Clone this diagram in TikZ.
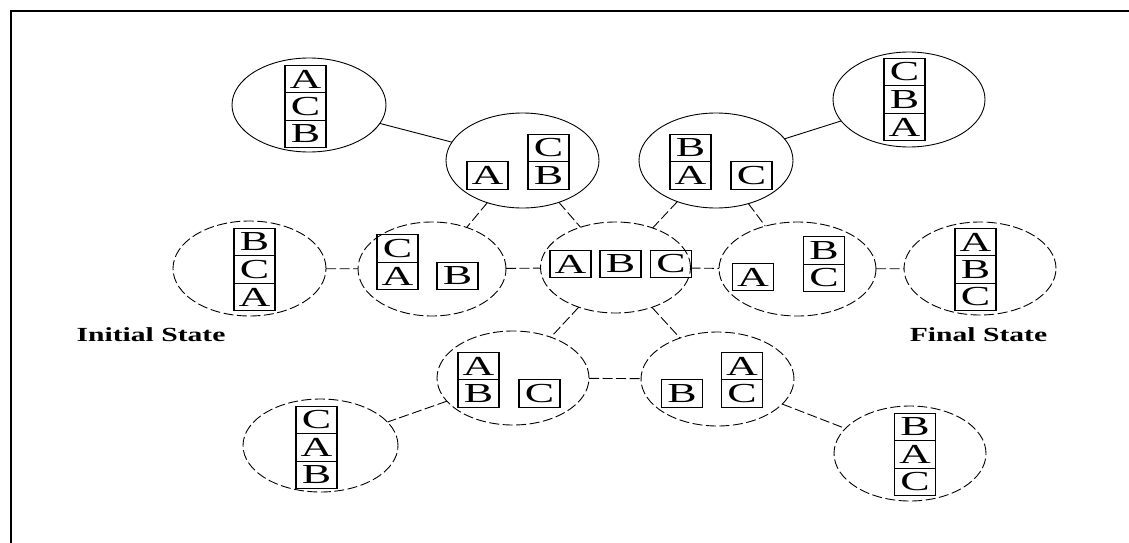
\documentclass[tikz,border=0pt]{standalone}
\usepackage{fontspec}
\usetikzlibrary{shapes.geometric}
\newfontfamily\blockfont[FakeStretch=1.6]{Liberation Serif}
\newfontfamily\labelfont[FakeStretch=1.48]{Liberation Serif}

\begin{document}
\begin{tikzpicture}[x=1pt,y=-1pt,
  blk/.style={draw, line width=1.2pt, minimum width=41pt, minimum height=27.5pt,
    inner sep=0pt, outer sep=0pt, font=\fontsize{27.5}{30}\blockfont},
  state/.style={ellipse, draw, line width=0.9pt, inner sep=0pt, outer sep=0pt},
  loose/.style={dash pattern=on 10pt off 3.5pt},
  link/.style={line width=0.9pt},
  caption/.style={font=\fontsize{20}{24}\labelfont\bfseries, inner sep=0pt}
]
\useasboundingbox (0,0) rectangle (1129,543);

% frame
\draw[line width=1.4pt] (11,543) -- (11,11) -- (1129,11);

% states: top row
\node[state, minimum width=154pt, minimum height=94pt] (e1) at (309,105) {};
\node[state, minimum width=153pt, minimum height=95pt] (e2) at (522.5,160.5) {};
\node[state, minimum width=154pt, minimum height=95pt] (e3) at (716,160.5) {};
\node[state, minimum width=152pt, minimum height=95pt] (e4) at (909,99.5) {};
% middle row
\node[state, loose, minimum width=153pt, minimum height=95pt] (e5) at (249.5,268.5) {};
\node[state, loose, minimum width=148pt, minimum height=94pt] (e6) at (432,269) {};
\node[state, loose, minimum width=150pt, minimum height=91pt] (e7) at (615.5,267.5) {};
\node[state, loose, minimum width=157pt, minimum height=94pt] (e12) at (797.5,269) {};
\node[state, loose, minimum width=152pt, minimum height=93pt] (e13) at (980,268.5) {};
% lower rows
\node[state, loose, minimum width=152pt, minimum height=94pt] (e8) at (513,378) {};
\node[state, loose, minimum width=153pt, minimum height=94pt] (e9) at (717.5,379) {};
\node[state, loose, minimum width=155pt, minimum height=93pt] (e10) at (320.5,445.5) {};
\node[state, loose, minimum width=152pt, minimum height=95pt] (e11) at (910,453.5) {};

% moves between states
\draw[link] (e1) -- (e2);
\draw[link] (e3) -- (e4);
\draw[link, loose] (e2) -- (e6);
\draw[link, loose] (e2) -- (e7);
\draw[link, loose] (e3) -- (e7);
\draw[link, loose] (e3) -- (e12);
\draw[link, loose] (e5) -- (e6);
\draw[link, loose] (e6) -- (e7);
\draw[link, loose] (e7) -- (e12);
\draw[link, loose] (e12) -- (e13);
\draw[link, loose] (e7) -- (e8);
\draw[link, loose] (e7) -- (e9);
\draw[link, loose] (e8) -- (e9);
\draw[link, loose] (e8) -- (e10);
\draw[link, loose] (e9) -- (e11);

% blocks
% e1: A on C on B
\node[blk] (e1a) at (305.5,79) {A};
\node[blk] (e1c) at (305.5,106.5) {C};
\node[blk] (e1b) at (305.5,134) {B};
% e2: A | C on B
\node[blk] (e2a) at (487.5,175.5) {A};
\node[blk] (e2c) at (548.5,148) {C};
\node[blk] (e2b) at (548.5,175.5) {B};
% e3: B on A | C
\node[blk] (e3b) at (690.5,148) {B};
\node[blk] (e3a) at (690.5,175.5) {A};
\node[blk] (e3c) at (751.5,175.5) {C};
% e4: C on B on A
\node[blk] (e4c) at (904.5,72) {C};
\node[blk] (e4b) at (904.5,99.5) {B};
\node[blk] (e4a) at (904.5,127) {A};
% e5: B on C on A
\node[blk] (e5b) at (254.5,242) {B};
\node[blk] (e5c) at (254.5,269.5) {C};
\node[blk] (e5a) at (254.5,297) {A};
% e6: C on A | B
\node[blk] (e6c) at (397.5,248.5) {C};
\node[blk] (e6a) at (397.5,276) {A};
\node[blk] (e6b) at (457.5,276) {B};
% e7: A | B | C
\node[blk] (e7a) at (570.5,264) {A};
\node[blk] (e7b) at (620.5,264) {B};
\node[blk] (e7c) at (671,264) {C};
% e12: A | B on C
\node[blk] (e12a) at (753,277) {A};
\node[blk] (e12b) at (824,250.5) {B};
\node[blk] (e12c) at (824,278) {C};
% e13: A on B on C
\node[blk] (e13a) at (975.5,242) {A};
\node[blk] (e13b) at (975.5,269.5) {B};
\node[blk] (e13c) at (975.5,297) {C};
% e8: A on B | C
\node[blk] (e8a) at (478.5,366) {A};
\node[blk] (e8b) at (478.5,393.5) {B};
\node[blk] (e8c) at (539.5,393.5) {C};
% e9: B | A on C
\node[blk] (e9b) at (682,393.5) {B};
\node[blk] (e9a) at (742,366) {A};
\node[blk] (e9c) at (742,393.5) {C};
% e10: C on A on B
\node[blk] (e10c) at (316.5,420) {C};
\node[blk] (e10a) at (316.5,447.5) {A};
\node[blk] (e10b) at (316.5,475) {B};
% e11: B on A on C
\node[blk] (e11b) at (915,427) {B};
\node[blk] (e11a) at (915,454.5) {A};
\node[blk] (e11c) at (915,482) {C};

% captions
\node[caption] (init) at (151,334.5) {Initial State};
\node[caption] (goal) at (978.5,334.5) {Final State};
\end{tikzpicture}
\end{document}
